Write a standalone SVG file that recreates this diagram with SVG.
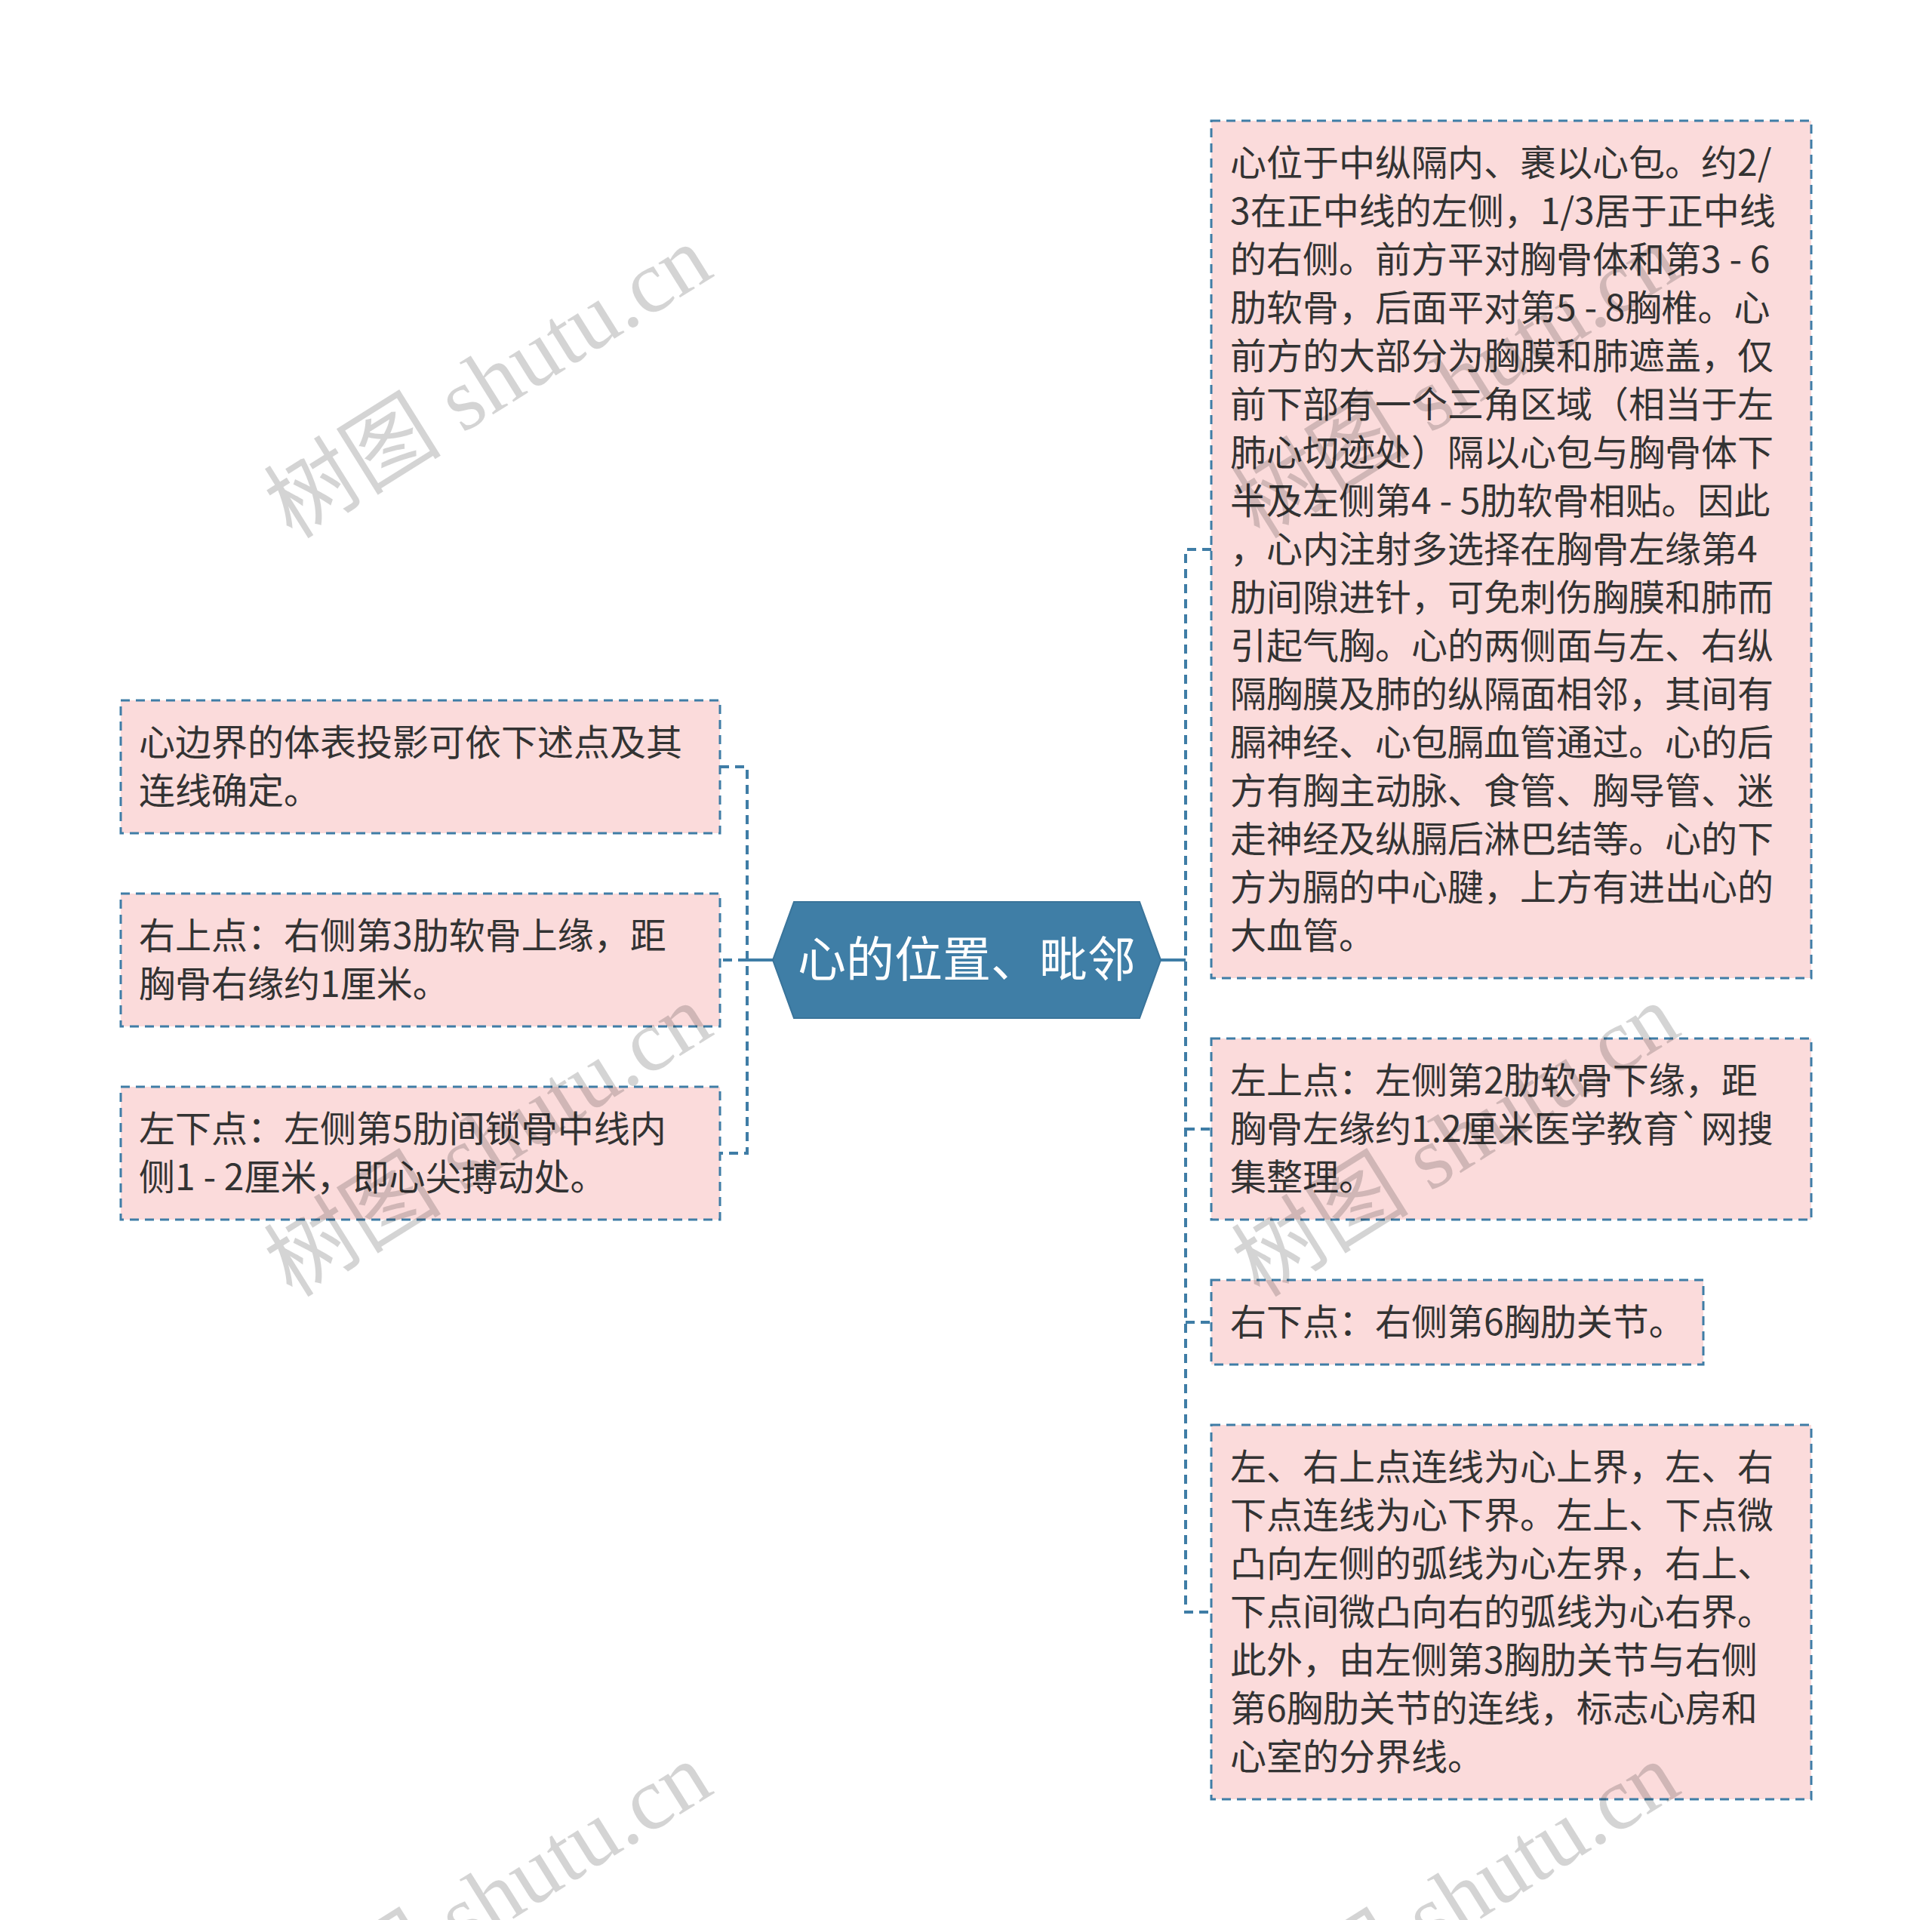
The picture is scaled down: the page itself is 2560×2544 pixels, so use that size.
<svg xmlns="http://www.w3.org/2000/svg" width="2560" height="2544" viewBox="0 0 2560 2544">
<style>
.bg{fill:#ffffff}
.box{fill:#fbdbdb;stroke:#3f7da6;stroke-width:3;stroke-dasharray:12 8}
.t{font-family:"Noto Sans CJK SC","Noto Sans",sans-serif;font-size:48px;fill:#333333}
.ct{font-family:"Noto Sans CJK SC","Noto Sans",sans-serif;font-size:64px;fill:#ffffff}
.dl{fill:none;stroke:#3f7da6;stroke-width:4;stroke-dasharray:12 8}
.sl{fill:none;stroke:#3f7da6;stroke-width:4}
.wm{font-family:"Liberation Serif","Noto Sans CJK SC",serif;font-size:118px;fill:#000000;fill-opacity:0.17}
</style>
<rect class="bg" x="0" y="0" width="2560" height="2544"/>
<g id="connectors">
  <path class="sl" d="M1024 1272 H990"/>
  <path class="dl" d="M954 1016 H990 V1528 H954"/>
  <path class="dl" d="M990 1272 H954"/>
  <path class="sl" d="M1538 1272 H1571"/>
  <path class="dl" d="M1605 728 H1571 V2136 H1605"/>
  <path class="dl" d="M1571 1496 H1605"/>
  <path class="dl" d="M1571 1752 H1605"/>
</g>
<g id="center">
  <polygon points="1024,1272 1052,1195 1510,1195 1538,1272 1510,1349 1052,1349" fill="#3f7ea6" stroke="#3a749a" stroke-width="2"/>
  <text class="ct" x="1281" y="1294" text-anchor="middle">心的位置、毗邻</text>
</g>
<g id="left1">
  <rect class="box" x="160" y="928" width="794" height="176"/>
  <text class="t"><tspan x="184" y="1001">心边界的体表投影可依下述点及其</tspan><tspan x="184" y="1065">连线确定。</tspan></text>
</g>
<g id="left2">
  <rect class="box" x="160" y="1184" width="794" height="176"/>
  <text class="t"><tspan x="184" y="1257">右上点：右侧第3肋软骨上缘，距</tspan><tspan x="184" y="1321">胸骨右缘约1厘米。</tspan></text>
</g>
<g id="left3">
  <rect class="box" x="160" y="1440" width="794" height="176"/>
  <text class="t"><tspan x="184" y="1513">左下点：左侧第5肋间锁骨中线内</tspan><tspan x="184" y="1577">侧1 - 2厘米，即心尖搏动处。</tspan></text>
</g>
<g id="right1">
  <rect class="box" x="1605" y="160" width="795" height="1136"/>
  <text class="t">
    <tspan x="1630" y="233">心位于中纵隔内、裹以心包。约2/</tspan>
    <tspan x="1630" y="297">3在正中线的左侧，1/3居于正中线</tspan>
    <tspan x="1630" y="361">的右侧。前方平对胸骨体和第3 - 6</tspan>
    <tspan x="1630" y="425">肋软骨，后面平对第5 - 8胸椎。心</tspan>
    <tspan x="1630" y="489">前方的大部分为胸膜和肺遮盖，仅</tspan>
    <tspan x="1630" y="553">前下部有一个三角区域（相当于左</tspan>
    <tspan x="1630" y="617">肺心切迹处）隔以心包与胸骨体下</tspan>
    <tspan x="1630" y="681">半及左侧第4 - 5肋软骨相贴。因此</tspan>
    <tspan x="1630" y="745">，心内注射多选择在胸骨左缘第4</tspan>
    <tspan x="1630" y="809">肋间隙进针，可免刺伤胸膜和肺而</tspan>
    <tspan x="1630" y="873">引起气胸。心的两侧面与左、右纵</tspan>
    <tspan x="1630" y="937">隔胸膜及肺的纵隔面相邻，其间有</tspan>
    <tspan x="1630" y="1001">膈神经、心包膈血管通过。心的后</tspan>
    <tspan x="1630" y="1065">方有胸主动脉、食管、胸导管、迷</tspan>
    <tspan x="1630" y="1129">走神经及纵膈后淋巴结等。心的下</tspan>
    <tspan x="1630" y="1193">方为膈的中心腱，上方有进出心的</tspan>
    <tspan x="1630" y="1257">大血管。</tspan>
  </text>
</g>
<g id="right2">
  <rect class="box" x="1605" y="1376" width="795" height="240"/>
  <text class="t"><tspan x="1630" y="1449">左上点：左侧第2肋软骨下缘，距</tspan><tspan x="1630" y="1513">胸骨左缘约1.2厘米医学教育`网搜</tspan><tspan x="1630" y="1577">集整理。</tspan></text>
</g>
<g id="right3">
  <rect class="box" x="1605" y="1696" width="652" height="112"/>
  <text class="t"><tspan x="1630" y="1769">右下点：右侧第6胸肋关节。</tspan></text>
</g>
<g id="right4">
  <rect class="box" x="1605" y="1888" width="795" height="496"/>
  <text class="t">
    <tspan x="1630" y="1961">左、右上点连线为心上界，左、右</tspan>
    <tspan x="1630" y="2025">下点连线为心下界。左上、下点微</tspan>
    <tspan x="1630" y="2089">凸向左侧的弧线为心左界，右上、</tspan>
    <tspan x="1630" y="2153">下点间微凸向右的弧线为心右界。</tspan>
    <tspan x="1630" y="2217">此外，由左侧第3胸肋关节与右侧</tspan>
    <tspan x="1630" y="2281">第6胸肋关节的连线，标志心房和</tspan>
    <tspan x="1630" y="2345">心室的分界线。</tspan>
  </text>
</g>
<g id="watermarks">
  <text class="wm" x="668" y="540" text-anchor="middle" transform="rotate(-32 668 540)">树图 shutu.cn</text>
  <text class="wm" x="668" y="1545" text-anchor="middle" transform="rotate(-32 668 1545)">树图 shutu.cn</text>
  <text class="wm" x="668" y="2550" text-anchor="middle" transform="rotate(-32 668 2550)">树图 shutu.cn</text>
  <text class="wm" x="1950" y="540" text-anchor="middle" transform="rotate(-32 1950 540)">树图 shutu.cn</text>
  <text class="wm" x="1950" y="1545" text-anchor="middle" transform="rotate(-32 1950 1545)">树图 shutu.cn</text>
  <text class="wm" x="1950" y="2550" text-anchor="middle" transform="rotate(-32 1950 2550)">树图 shutu.cn</text>
</g>
</svg>
